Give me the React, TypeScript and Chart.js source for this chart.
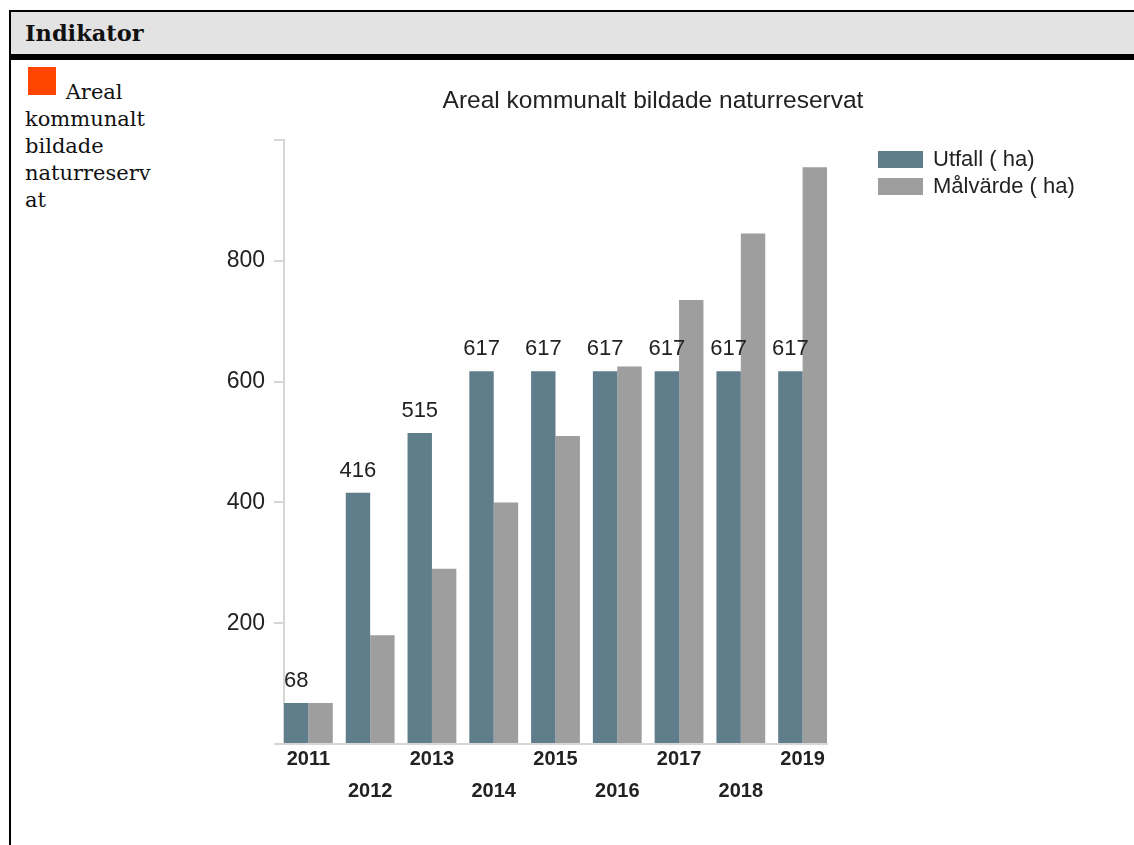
import React, { useEffect, useRef } from 'react';
import { Chart, registerables } from 'chart.js';

Chart.register(...registerables);

const years = ['2011', '2012', '2013', '2014', '2015', '2016', '2017', '2018', '2019'];
const utfall = [68, 416, 515, 617, 617, 617, 617, 617, 617];
const malvarde = [68, 180, 290, 400, 510, 625, 735, 845, 955];
const seriesNames = ['Utfall ( ha)', 'Målvärde ( ha)'];
const seriesColors = ['#607d8b', '#9e9e9e'];
const chartTitle = 'Areal kommunalt bildade naturreservat';
const yMin = 0;
const yMax = 1000;
const yStep = 200;
const categoryPct = 0.79;

const FONT = '"Liberation Sans", Arial, sans-serif';
const AXIS = '#d6d6d6';
const TEXT = '#222';

const sideLegend = {
  id: 'sideLegend',
  afterDraw(chart: any) {
    const ctx = chart.ctx;
    const area = chart.chartArea;
    ctx.save();
    ctx.font = `22px ${FONT}`;
    ctx.textBaseline = 'middle';
    ctx.textAlign = 'left';
    chart.data.datasets.forEach((ds: any, i: number) => {
      const x = area.right + 51;
      const y = area.top + 11 + i * 27;
      ctx.fillStyle = ds.backgroundColor;
      ctx.fillRect(x, y, 45, 17);
      ctx.fillStyle = TEXT;
      ctx.fillText(ds.label, x + 55, y + 9);
    });
    ctx.restore();
  },
};

const valueLabels = {
  id: 'valueLabels',
  afterDatasetsDraw(chart: any) {
    const meta = chart.getDatasetMeta(0);
    const values = chart.data.datasets[0].data;
    const ctx = chart.ctx;
    ctx.save();
    ctx.font = `22px ${FONT}`;
    ctx.fillStyle = TEXT;
    ctx.textAlign = 'center';
    ctx.textBaseline = 'alphabetic';
    meta.data.forEach((bar: any, i: number) => {
      ctx.fillText(String(values[i]), bar.x, bar.y - 16);
    });
    ctx.restore();
  },
};

function IndicatorChart() {
  const ref = useRef<HTMLCanvasElement | null>(null);
  useEffect(() => {
    if (!ref.current) return;
    Chart.defaults.font.family = FONT;
    const chart = new Chart(ref.current, {
      type: 'bar',
      data: {
        labels: years,
        datasets: [
          { label: seriesNames[0], data: utfall, backgroundColor: seriesColors[0], yAxisID: 'y', barPercentage: 1, categoryPercentage: categoryPct },
          { label: seriesNames[1], data: malvarde, backgroundColor: seriesColors[1], yAxisID: 'y', barPercentage: 1, categoryPercentage: categoryPct },
        ],
      },
      options: {
        responsive: false,
        animation: false,
        devicePixelRatio: 1,
        layout: { padding: 0 },
        plugins: {
          legend: { display: false },
          tooltip: { enabled: false },
          title: {
            display: true,
            text: chartTitle,
            color: TEXT,
            font: { size: 24.5, weight: 'normal', lineHeight: 1.2 },
            padding: { top: 25, bottom: 23.6 },
          },
        },
        scales: {
          x: {
            type: 'category',
            offset: true,
            grid: { display: false, drawTicks: false },
            border: { display: true, color: AXIS, width: 2 },
            ticks: {
              color: TEXT,
              font: { size: 20, weight: 'bold', lineHeight: 1.6 },
              padding: -1,
              maxRotation: 0,
              autoSkip: false,
              callback: function (this: any, v: any, i: number) {
                const l = this.getLabelForValue(v);
                return i % 2 === 0 ? l : ['', l];
              },
            },
            afterBuildTicks(axis: any) {
              axis._startValue = -categoryPct / 2;
              axis._valueRange = years.length - 1 + categoryPct;
            },
            afterFit(axis: any) {
              axis.height = 101;
            },
          },
          y: {
            min: yMin,
            max: yMax,
            ticks: {
              stepSize: yStep,
              padding: 9,
              color: TEXT,
              font: { size: 23 },
              callback: (v: any) => (v === yMin || v === yMax ? '' : String(v)),
            },
            grid: { display: true, drawOnChartArea: false, drawTicks: true, tickLength: 10, color: AXIS, lineWidth: 2 },
            border: { display: true, color: AXIS, width: 2 },
            afterFit(axis: any) {
              axis.width = 112;
            },
          },
          yR: {
            position: 'right',
            display: true,
            grid: { display: false, drawTicks: false },
            border: { display: false },
            ticks: { display: false },
            afterFit(axis: any) {
              axis.width = 307;
            },
          },
        },
      } as any,
      plugins: [valueLabels, sideLegend],
    });
    return () => chart.destroy();
  }, []);
  return (
    <canvas
      ref={ref}
      width={962}
      height={783}
      style={{ position: 'absolute', left: 172, top: 62, width: 962, height: 783 }}
    />
  );
}

export default function App() {
  const serif = '"DejaVu Serif", Georgia, serif';
  return (
    <>
      <div
        style={{
          position: 'absolute',
          left: 9,
          top: 10,
          width: 1134 - 9 - 2,
          height: 845 - 10 - 2,
          borderLeft: '2px solid #000',
          borderTop: '2px solid #000',
          fontFamily: serif,
          color: '#111',
        }}
      >
        <div
          style={{
            height: 42,
            lineHeight: '42px',
            background: '#e3e3e3',
            borderBottom: '6px solid #000',
            paddingLeft: 14,
            fontWeight: 'bold',
            fontSize: 22.5,
          }}
        >
          Indikator
        </div>
        <div
          style={{
            paddingTop: 7,
            paddingLeft: 14,
            width: 132,
            fontSize: 21,
            lineHeight: '27px',
            wordBreak: 'break-word',
          }}
        >
          <span
            style={{
              display: 'inline-block',
              width: 28,
              height: 28,
              marginLeft: 3,
              marginRight: 3,
              marginBottom: 4,
              background: '#ff4500',
            }}
          />{' '}
          Areal kommunalt bildade naturreservat
        </div>
      </div>
      <IndicatorChart />
    </>
  );
}
